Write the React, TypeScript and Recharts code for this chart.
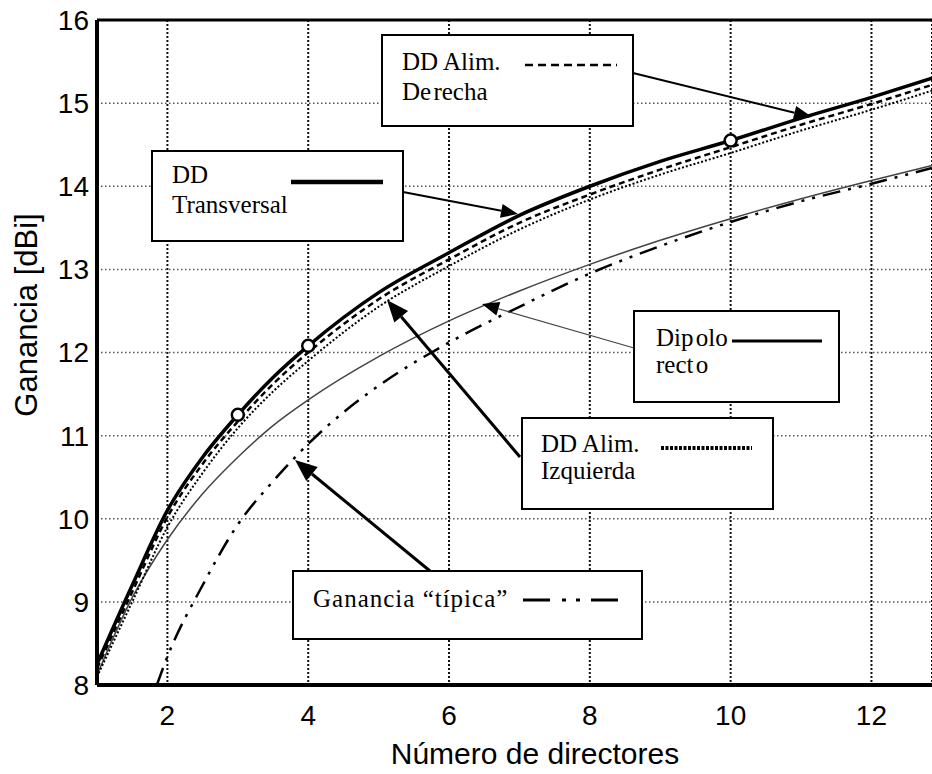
import { CartesianGrid, Line, LineChart, ReferenceLine, XAxis, YAxis } from 'recharts'

// número de directores (eje x)
const xs = [1, 1.5, 2, 2.5, 3, 3.5, 4, 5, 6, 7, 8, 9, 10, 11, 12, 12.86]
const transversal = [8.25, 9.2, 10.1, 10.74, 11.25, 11.7, 12.08, 12.72, 13.2, 13.65, 14.0, 14.3, 14.55, 14.82, 15.07, 15.3]
const derecha = [8.2, 9.12, 10.02, 10.66, 11.17, 11.62, 12.0, 12.64, 13.12, 13.56, 13.9, 14.2, 14.47, 14.74, 14.99, 15.22]
const izquierda = [8.1, 9.0, 9.9, 10.55, 11.09, 11.53, 11.9, 12.55, 13.04, 13.48, 13.84, 14.14, 14.4, 14.67, 14.92, 15.15]
const dipolo = [8.12, 9.05, 9.75, 10.3, 10.74, 11.12, 11.43, 11.95, 12.38, 12.74, 13.06, 13.35, 13.61, 13.85, 14.07, 14.25]

const tipicaX = [1.85, 2, 2.5, 3, 3.5, 4, 4.5, 5, 6, 7, 8, 9, 10, 11, 12, 12.86]
const tipica = [8.0, 8.34, 9.2, 9.93, 10.45, 10.9, 11.28, 11.6, 12.12, 12.55, 12.95, 13.28, 13.57, 13.82, 14.03, 14.22]

const markerX = [3, 4, 10]
const xTicks = [2, 4, 6, 8, 10, 12]
const yTicks = [8, 9, 10, 11, 12, 13, 14, 15, 16]

const toPoints = (x: number[], y: number[]) => x.map((v, i) => ({ x: v, y: y[i] }))

const SANS = 'Liberation Sans, Arial, sans-serif'
const SERIF = 'Liberation Serif, Times New Roman, serif'

function Arrow({ x1, y1, x2, y2, w, len, half, color = '#000' }: {
  x1: number; y1: number; x2: number; y2: number; w: number; len: number; half: number; color?: string
}) {
  const a = Math.atan2(y2 - y1, x2 - x1)
  const bx = x2 - len * Math.cos(a)
  const by = y2 - len * Math.sin(a)
  const px = -Math.sin(a) * half
  const py = Math.cos(a) * half
  return (
    <g>
      <line x1={x1} y1={y1} x2={bx} y2={by} stroke={color} strokeWidth={w} />
      <polygon points={`${x2},${y2} ${bx + px},${by + py} ${bx - px},${by - py}`} fill="#000" />
    </g>
  )
}

function Box({ x, y, w, h }: { x: number; y: number; w: number; h: number }) {
  return <rect x={x} y={y} width={w} height={h} fill="#fff" stroke="#000" strokeWidth={2} />
}

function Annotations() {
  const t = { fontFamily: SERIF, fontSize: 25, fill: '#000' }
  return (
    <svg width={932} height={774} style={{ position: 'absolute', left: 0, top: 0, pointerEvents: 'none' }}>
      <text x={37} y={315} transform="rotate(-90 37 315)" textAnchor="middle" fontFamily={SANS} fontSize={31} fill="#000">
        Ganancia [dBi]
      </text>
      <text x={535} y={764} textAnchor="middle" fontFamily={SANS} fontSize={30} fill="#000">
        Número de directores
      </text>

      <Arrow x1={633} y1={73} x2={812} y2={117} w={2} len={18} half={7} />
      <Arrow x1={403} y1={192} x2={518} y2={214} w={2} len={17} half={7} />
      <Arrow x1={634} y1={348} x2={482} y2={304} w={1.2} len={17} half={7} color="#444" />
      <Arrow x1={520} y1={457} x2={387} y2={300} w={3} len={22} half={9} />
      <Arrow x1={430} y1={571} x2={295} y2={460} w={3} len={22} half={9} />

      <Box x={382} y={35} w={251} h={91} />
      <text x={402} y={70} {...t}>DD  Alim.</text>
      <text x={402} y={100} {...t} wordSpacing={-4}>De recha</text>
      <line x1={525} y1={65} x2={617} y2={65} stroke="#000" strokeWidth={2.5} strokeDasharray="8 5" />

      <Box x={152} y={151} w={251} h={90} />
      <text x={172} y={183} {...t}>DD</text>
      <text x={172} y={213} {...t}>Transversal</text>
      <line x1={291} y1={182} x2={383} y2={182} stroke="#000" strokeWidth={4.5} />

      <Box x={634} y={311} w={205} h={91} />
      <text x={656} y={346} {...t} wordSpacing={-4}>Dip olo</text>
      <text x={656} y={373} {...t} wordSpacing={-4}>rect o</text>
      <line x1={732} y1={341} x2={822} y2={341} stroke="#000" strokeWidth={3} />

      <Box x={522} y={418} w={251} h={91} />
      <text x={541} y={452} {...t}>DD Alim.</text>
      <text x={541} y={479} {...t}>Izquierda</text>
      <line x1={661} y1={448} x2={752} y2={448} stroke="#000" strokeWidth={4} strokeDasharray="3 1.5" />

      <Box x={293} y={571} w={349} h={68} />
      <text x={313} y={607} {...t} letterSpacing={1}>Ganancia “típica”</text>
      <line x1={523} y1={600} x2={628} y2={600} stroke="#000" strokeWidth={3} strokeDasharray="27 12 4 10 4 11" />
    </svg>
  )
}

const marker = (p: any) =>
  markerX.includes(p.payload?.x) ? (
    <circle key={`m${p.index}`} cx={p.cx} cy={p.cy} r={6} fill="#fff" stroke="#000" strokeWidth={2.5} />
  ) : (
    <g key={`m${p.index}`} />
  )

export default function App() {
  const tick = { fontSize: 28, fill: '#000', fontFamily: SANS }
  return (
    <div style={{ position: 'absolute', left: 0, top: 0, width: 932, height: 774, background: '#fff', overflow: 'hidden' }}>
      <LineChart width={932} height={774} margin={{ top: 20, right: 0, left: 37, bottom: 39 }}>
        <CartesianGrid horizontal={false} stroke="#111" strokeWidth={2} strokeDasharray="2 2" />
        <CartesianGrid vertical={false} stroke="#555" strokeWidth={1.5} strokeDasharray="1.5 2.5" />
        <XAxis
          type="number"
          dataKey="x"
          domain={[1, 12.86]}
          ticks={xTicks}
          allowDataOverflow
          tickLine={false}
          axisLine={{ stroke: '#000', strokeWidth: 4 }}
          tick={tick}
          tickMargin={14}
          height={50}
        />
        <YAxis
          type="number"
          domain={[8, 16]}
          ticks={yTicks}
          allowDataOverflow
          tickLine={false}
          axisLine={{ stroke: '#000', strokeWidth: 4 }}
          tick={tick}
          width={60}
        />
        <ReferenceLine y={16} stroke="#000" strokeWidth={3} />
        <Line data={toPoints(tipicaX, tipica)} dataKey="y" type="monotone" stroke="#000" strokeWidth={2.5} strokeDasharray="18 8 3 8 3 8" dot={false} isAnimationActive={false} />
        <Line data={toPoints(xs, dipolo)} dataKey="y" type="monotone" stroke="#444" strokeWidth={1.5} dot={false} isAnimationActive={false} />
        <Line data={toPoints(xs, izquierda)} dataKey="y" type="monotone" stroke="#000" strokeWidth={2} strokeDasharray="2 2" dot={false} isAnimationActive={false} />
        <Line data={toPoints(xs, derecha)} dataKey="y" type="monotone" stroke="#000" strokeWidth={2.5} strokeDasharray="6 4" dot={false} isAnimationActive={false} />
        <Line data={toPoints(xs, transversal)} dataKey="y" type="monotone" stroke="#000" strokeWidth={3.5} dot={marker} activeDot={false} isAnimationActive={false} />
      </LineChart>
      <Annotations />
    </div>
  )
}
